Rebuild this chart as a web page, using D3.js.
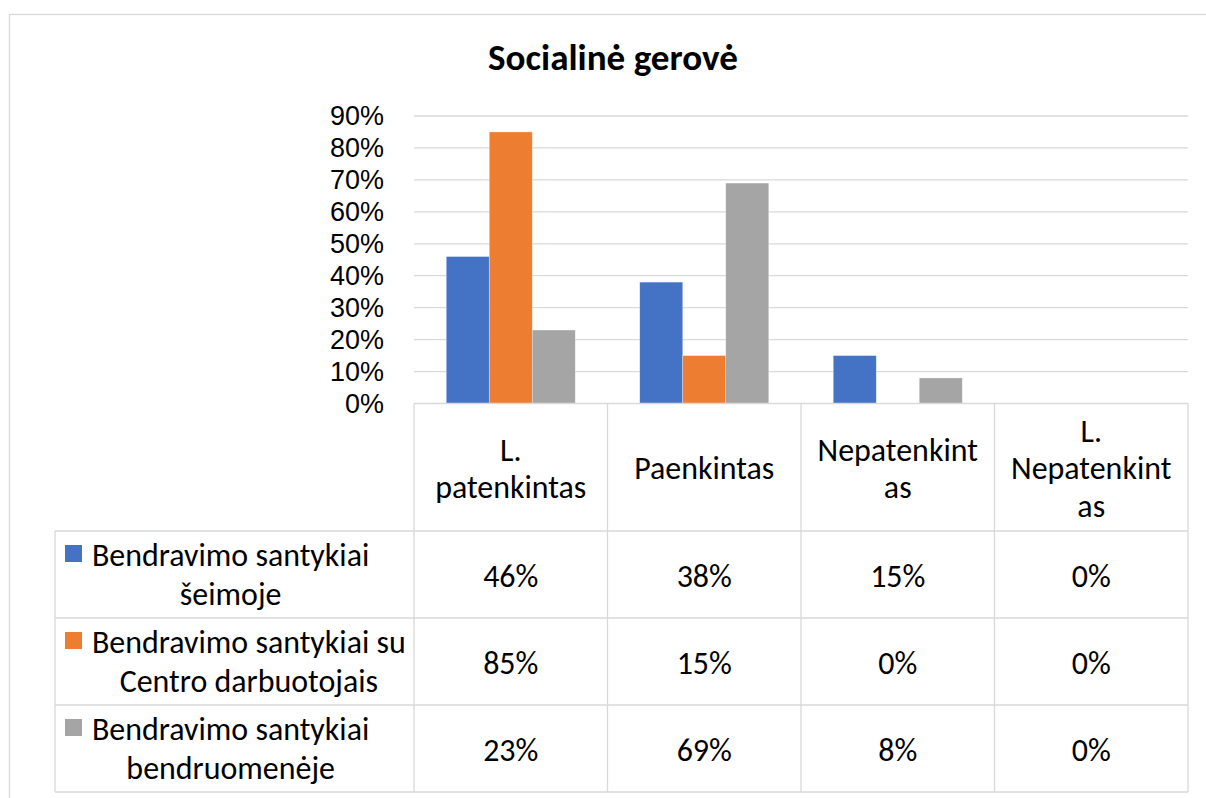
<!DOCTYPE html>
<html><head><meta charset="utf-8">
<script src="https://cdn.jsdelivr.net/npm/d3@7"></script>
<style>html,body{margin:0;padding:0;background:#fff;} svg{display:block;}</style>
</head><body>
<svg id="chart" width="1206" height="798"></svg>
<script>
const title = "Socialinė gerovė";
const categories = ["L. patenkintas", "Paenkintas", "Nepatenkintas", "L. Nepatenkintas"];
const categoryLines = [["L.", "patenkintas"], ["Paenkintas"], ["Nepatenkint", "as"], ["L.", "Nepatenkint", "as"]];
const seriesNames = ["Bendravimo santykiai šeimoje", "Bendravimo santykiai su Centro darbuotojais", "Bendravimo santykiai bendruomenėje"];
const seriesLines = [["Bendravimo santykiai", "šeimoje"], ["Bendravimo santykiai su", "Centro darbuotojais"], ["Bendravimo santykiai", "bendruomenėje"]];
const seriesFamily = [0.46, 0.38, 0.15, 0.00];
const seriesStaff = [0.85, 0.15, 0.00, 0.00];
const seriesCommunity = [0.23, 0.69, 0.08, 0.00];
const yTicks = [0, 0.1, 0.2, 0.3, 0.4, 0.5, 0.6, 0.7, 0.8, 0.9];
const colors = ["#4472C4", "#ED7D31", "#A5A5A5"];

const series = [seriesFamily, seriesStaff, seriesCommunity];
const FONT = "Carlito, Calibri, Lato, 'Open Sans', sans-serif";
const TICKFONT = "'Liberation Sans', Arial, sans-serif";
const GRID = "#D9D9D9";

const svg = d3.select("#chart");

function measure(text, size, weight, fam) {
  const t = svg.append("text").attr("font-family", fam || FONT).attr("font-size", size)
    .attr("font-weight", weight || "normal").text(text);
  const w = t.node().getComputedTextLength();
  t.remove();
  return w;
}
function measureH(text, size, fam) {
  const t = svg.append("text").attr("font-family", fam || FONT).attr("font-size", size).text(text);
  const h = t.node().getBBox().height;
  t.remove();
  return h;
}
const bodySize = 100 * 314 / measure("Bendravimo santykiai su", 100);
const titleSize = 100 * 250 / measure(title, 100, "bold");

// layout
const plotL = 414, plotR = 1188, plotT = 116, plotB = 403.5;
const tableL = 55, headerB = 531, rowH = 87;

const x0 = d3.scaleBand().domain(categories).range([plotL, plotR]).paddingInner(0).paddingOuter(0);
const x1 = d3.scaleBand().domain(d3.range(series.length)).range([0, x0.bandwidth()]).paddingInner(0).paddingOuter(0.75);
const y = d3.scaleLinear().domain([0, 0.9]).range([plotB, plotT]);

// tick font: match width of reference labels, but keep label boxes from overlapping
const tickStep = y(0) - y(0.1);
const tickSize = Math.min(100 * 54 / measure("90%", 100, "normal", TICKFONT),
                          100 * (tickStep - 0.8) / measureH("90%", 100, TICKFONT));

// outer chart border
svg.append("rect").attr("x", 9.5).attr("y", 14.5).attr("width", 1220).attr("height", 800)
  .attr("fill", "none").attr("stroke", GRID).attr("stroke-width", 1.3);

// gridlines
svg.append("g").selectAll("line").data(yTicks.filter(d => d > 0)).join("line")
  .attr("x1", plotL).attr("x2", plotR).attr("y1", d => y(d)).attr("y2", d => y(d))
  .attr("stroke", GRID).attr("stroke-width", 1.3);

// y axis labels
const yAxis = d3.axisLeft(y).tickValues(yTicks).tickFormat(d3.format(".0%")).tickSize(0).tickPadding(0);
const gy = svg.append("g").attr("transform", `translate(384,0)`).call(yAxis);
gy.select(".domain").remove();
gy.selectAll("text").attr("font-family", TICKFONT).attr("font-size", tickSize).attr("fill", "#000");

// bars
svg.append("g").selectAll("g").data(series).join("g")
  .attr("fill", (d, i) => colors[i])
  .each(function(vals, si) {
    d3.select(this).selectAll("rect").data(vals).join("rect")
      .attr("x", (v, ci) => x0(categories[ci]) + x1(si))
      .attr("width", x1.bandwidth())
      .attr("y", v => y(v))
      .attr("height", v => y(0) - y(v))
      .attr("stroke", "#fff").attr("stroke-opacity", 0.5).attr("stroke-width", 0.6);
  });

// title
svg.append("text").attr("x", 613).attr("y", 57).attr("dy", "0.35em").attr("text-anchor", "middle")
  .attr("font-family", FONT).attr("font-weight", "bold").attr("font-size", titleSize).attr("fill", "#000").text(title);

// data table lines
const tableR = plotR;
const tg = svg.append("g").attr("stroke", GRID).attr("stroke-width", 1.3).attr("fill", "none");
tg.append("line").attr("x1", plotL).attr("x2", tableR).attr("y1", plotB).attr("y2", plotB);
for (let r = 0; r <= series.length; r++) {
  const yy = headerB + r * rowH;
  tg.append("line").attr("x1", tableL).attr("x2", tableR).attr("y1", yy).attr("y2", yy);
}
tg.append("line").attr("x1", tableL).attr("x2", tableL).attr("y1", headerB).attr("y2", headerB + series.length * rowH);
categories.forEach((c, i) => {
  const xx = x0(c);
  tg.append("line").attr("x1", xx).attr("x2", xx).attr("y1", plotB).attr("y2", headerB + series.length * rowH);
});
tg.append("line").attr("x1", tableR).attr("x2", tableR).attr("y1", plotB).attr("y2", headerB + series.length * rowH);

// header text
const lh = 37.5;
const headG = svg.append("g").attr("font-family", FONT).attr("font-size", bodySize).attr("fill", "#000").attr("text-anchor", "middle");
categories.forEach((c, i) => {
  const lines = categoryLines[i];
  const cx = x0(c) + x0.bandwidth() / 2;
  const cy = (plotB + headerB) / 2 + 1;
  lines.forEach((ln, k) => {
    headG.append("text").attr("x", cx).attr("y", cy + (k - (lines.length - 1) / 2) * lh).attr("dy", "0.35em").text(ln);
  });
});

// rows
series.forEach((vals, si) => {
  const top = headerB + si * rowH;
  const cy = top + rowH / 2;
  svg.append("rect").attr("x", 65).attr("y", top + 14).attr("width", 17).attr("height", 17).attr("fill", colors[si]);
  const lines = seriesLines[si];
  const maxW = d3.max(lines, l => measure(l, bodySize));
  const tx = 92 + maxW / 2;
  lines.forEach((ln, k) => {
    svg.append("text").attr("x", tx).attr("y", cy + (k - (lines.length - 1) / 2) * 38.5).attr("dy", "0.35em")
      .attr("text-anchor", "middle").attr("font-family", FONT).attr("font-size", bodySize).attr("fill", "#000").text(ln);
  });
  vals.forEach((v, ci) => {
    svg.append("text").attr("x", x0(categories[ci]) + x0.bandwidth() / 2).attr("y", cy + 1).attr("dy", "0.35em")
      .attr("text-anchor", "middle").attr("font-family", FONT).attr("font-size", bodySize).attr("fill", "#000")
      .text(d3.format(".0%")(v));
  });
});
</script>
</body></html>
